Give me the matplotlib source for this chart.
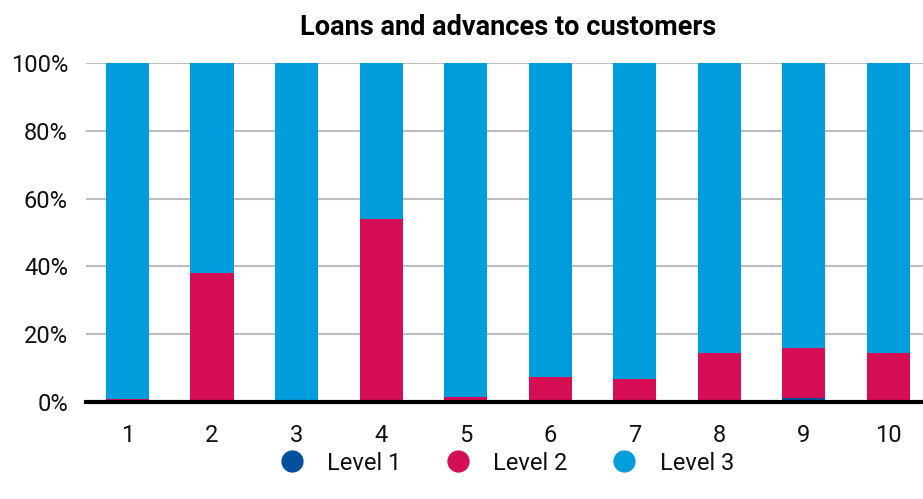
import matplotlib.pyplot as plt
import numpy as np

plt.rcParams['font.family'] = ['Roboto', 'DejaVu Sans']

categories = ['1', '2', '3', '4', '5', '6', '7', '8', '9', '10']
level1 = [0, 0, 0, 0, 0, 0, 0, 0, 1.2, 0]
level2 = [1.0, 38.0, 0, 54.0, 1.5, 7.5, 6.8, 14.6, 14.6, 14.6]
level3 = [100 - a - b for a, b in zip(level1, level2)]

c1 = '#00509e'
c2 = '#d50d55'
c3 = '#009ddc'

fig = plt.figure(figsize=(9.23, 4.99), dpi=100)
ax = fig.add_axes([0.0932, 0.1944, 0.9068, 0.6793])

x = np.arange(1, len(categories) + 1)
w = 0.51
ax.bar(x, level1, w, color=c1, label='Level 1', zorder=2)
ax.bar(x, level2, w, bottom=level1, color=c2, label='Level 2', zorder=2)
ax.bar(x, level3, w, bottom=np.array(level1) + np.array(level2),
       color=c3, label='Level 3', zorder=2)

ax.set_xlim(0.51, 10.41)
ax.set_ylim(0, 100)
ax.set_yticks([0, 20, 40, 60, 80, 100])
ax.set_yticklabels(['0%', '20%', '40%', '60%', '80%', '100%'])
ax.set_xticks(x)
ax.set_xticklabels(categories)
ax.grid(axis='y', color='#bdbdbd', linewidth=1.5, zorder=0)
ax.axhline(0, color='black', linewidth=3, zorder=3, clip_on=False)
for s in ax.spines.values():
    s.set_visible(False)
ax.tick_params(axis='both', length=0, labelsize=17, colors='#111111')
ax.tick_params(axis='x', pad=16)
ax.tick_params(axis='y', pad=13)

ax.set_title('Loans and advances to customers', fontsize=19.5,
             fontweight='bold', pad=20, x=0.504)

handles = [plt.Line2D([], [], marker='o', linestyle='', markersize=15, color=c)
           for c in (c1, c2, c3)]
leg = fig.legend(handles, ['Level 1', 'Level 2', 'Level 3'], loc='center',
                 bbox_to_anchor=(0.548, 0.072), ncol=3, frameon=False,
                 fontsize=17, handletextpad=0.9, columnspacing=1.8,
                 handlelength=1.2)
for t in leg.get_texts():
    t.set_color('#111111')

fig.savefig('out.png', dpi=100)
